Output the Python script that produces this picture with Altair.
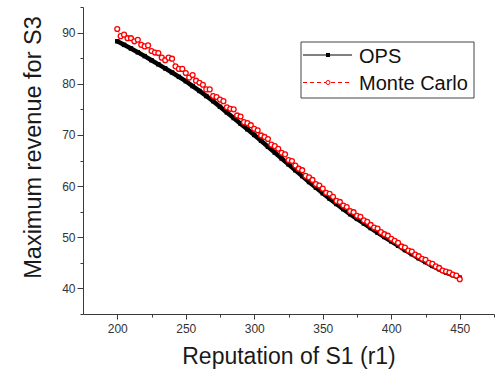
import altair as alt
import pandas as pd

# ---------------- data ----------------
ops_x = list(range(200, 451, 5))
ops_y = [88.3, 87.6, 86.9, 86.15, 85.4, 84.6, 83.8, 83.0, 82.2, 81.35,
         80.5, 79.55, 78.6, 77.6, 76.6, 75.5, 74.4, 73.3, 72.2, 71.1,
         70.0, 68.85, 67.7, 66.55, 65.4, 64.25, 63.1, 61.95, 60.8, 59.7,
         58.6, 57.55, 56.5, 55.5, 54.5, 53.6, 52.7, 51.8, 50.9, 50.05,
         49.2, 48.35, 47.5, 46.7, 45.9, 45.15, 44.4, 43.75, 43.1, 42.6,
         42.1]

mc_x = [200 + 2.5 * i for i in range(101)]
mc_y = [90.7, 89.3, 89.6, 88.9, 88.9, 88.3, 88.6, 87.6, 87.3, 87.5,
        86.4, 86.1, 86.0, 85.1, 84.6, 85.1, 84.9, 83.4, 82.9, 82.9,
        82.1, 81.2, 81.7, 80.6, 80.2, 79.8, 78.9, 78.9, 77.6, 77.4,
        76.9, 76.6, 75.4, 75.1, 75.0, 73.8, 73.6, 72.5, 72.3, 71.9,
        71.2, 70.9, 69.9, 69.6, 69.2, 68.1, 67.8, 67.3, 66.5, 66.2,
        65.1, 64.9, 64.0, 63.4, 63.1, 62.0, 61.7, 61.2, 60.4, 60.1,
        59.5, 58.7, 58.5, 57.9, 57.1, 56.9, 56.2, 55.9, 55.1, 54.9,
        54.2, 54.0, 53.3, 53.0, 52.4, 51.9, 51.7, 51.0, 50.6, 50.3,
        49.7, 49.3, 48.9, 48.2, 48.0, 47.4, 47.2, 46.6, 46.3, 45.8,
        45.6, 45.0, 44.8, 44.3, 44.0, 43.5, 43.3, 43.1, 42.7, 42.5,
        41.8]

x_major_ticks = [200, 250, 300, 350, 400, 450]
x_minor_ticks = [225, 275, 325, 375, 425, 475]
y_major_ticks = [40, 50, 60, 70, 80, 90]
y_minor_ticks = [35, 45, 55, 65, 75, 85, 95]
legend_labels = ["OPS", "Monte Carlo"]

FONT = "Liberation Sans"
AX = "#3a3a3a"

ops_df = pd.DataFrame({"r1": ops_x, "rev": ops_y})
mc_df = pd.DataFrame({"r1": mc_x, "rev": mc_y})
one = pd.DataFrame({"a": [0]})

xscale = alt.Scale(domain=[175, 475], nice=False, zero=False)
yscale = alt.Scale(domain=[35, 95], nice=False, zero=False)

x_major = alt.Axis(values=x_major_ticks, orient="bottom", grid=False, format="d",
                   domainColor=AX, domainWidth=1, tickColor=AX, tickSize=5, tickWidth=1,
                   labelFont=FONT, labelFontSize=12, labelColor="#333", labelPadding=4,
                   title="Reputation of S1 (r1)", titleFont=FONT, titleFontSize=23,
                   titleFontWeight="normal", titleColor="#1a1a1a",
                   titleBaseline="alphabetic", titleY=49)
y_major = alt.Axis(values=y_major_ticks, orient="left", grid=False, format="d",
                   domainColor=AX, domainWidth=1, tickColor=AX, tickSize=6, tickWidth=1,
                   labelFont=FONT, labelFontSize=12, labelColor="#333", labelPadding=2,
                   title="Maximum revenue for S3", titleFont=FONT, titleFontSize=23.5,
                   titleFontWeight="normal", titleColor="#1a1a1a",
                   titleBaseline="alphabetic", titleAlign="center", titleAngle=-90,
                   titleX=-43, titleY=140)
x_minor = alt.Axis(values=x_minor_ticks, orient="bottom", grid=False, labels=False,
                   domain=False, tickColor=AX, tickSize=3, tickWidth=1, title=None)
y_minor = alt.Axis(values=y_minor_ticks, orient="left", grid=False, labels=False,
                   domain=False, tickColor=AX, tickSize=3, tickWidth=1, title=None)

ops_line = alt.Chart(ops_df).mark_line(color="black", strokeWidth=4.5).encode(
    x=alt.X("r1:Q", scale=xscale, axis=x_major),
    y=alt.Y("rev:Q", scale=yscale, axis=y_major))
minor_layer = alt.Chart(ops_df).mark_point(opacity=0).encode(
    x=alt.X("r1:Q", scale=xscale, axis=x_minor),
    y=alt.Y("rev:Q", scale=yscale, axis=y_minor))
ops_pts = alt.Chart(ops_df).mark_point(shape="square", filled=True, color="black",
                                       size=20, opacity=1).encode(
    x=alt.X("r1:Q", scale=xscale, axis=None),
    y=alt.Y("rev:Q", scale=yscale, axis=None))
mc_line = alt.Chart(mc_df).mark_line(color="#ff0000", strokeWidth=1,
                                     strokeDash=[4, 3]).encode(
    x=alt.X("r1:Q", scale=xscale, axis=None),
    y=alt.Y("rev:Q", scale=yscale, axis=None))
mc_pts = alt.Chart(mc_df).mark_point(shape="circle", filled=False, fill="white",
                                     fillOpacity=1, stroke="#ff0000", strokeWidth=1.3,
                                     size=24, opacity=1).encode(
    x=alt.X("r1:Q", scale=xscale, axis=None),
    y=alt.Y("rev:Q", scale=yscale, axis=None))

# ---------------- legend ----------------
leg_box = alt.Chart(one).mark_rect(fill="white", stroke="#444", strokeWidth=1).encode(
    x=alt.value(218), x2=alt.value(391), y=alt.value(35), y2=alt.value(91))
leg_l1 = alt.Chart(one).mark_rule(color="black", strokeWidth=1).encode(
    x=alt.value(220), x2=alt.value(269), y=alt.value(48))
leg_p1 = alt.Chart(one).mark_point(shape="square", filled=True, color="black",
                                   size=16, opacity=1).encode(
    x=alt.value(245), y=alt.value(48))
leg_t1 = alt.Chart(one).mark_text(align="left", baseline="alphabetic", font=FONT,
                                  fontSize=20, color="#111").encode(
    x=alt.value(276), y=alt.value(55.5), text=alt.value(legend_labels[0]))
leg_l2 = alt.Chart(one).mark_rule(color="#ff0000", strokeWidth=1,
                                  strokeDash=[4, 3]).encode(
    x=alt.value(220), x2=alt.value(269), y=alt.value(75.5))
leg_p2 = alt.Chart(one).mark_point(shape="circle", filled=False, fill="white",
                                   fillOpacity=1, stroke="#ff0000", strokeWidth=1,
                                   size=16, opacity=1).encode(
    x=alt.value(245), y=alt.value(75.5))
leg_t2 = alt.Chart(one).mark_text(align="left", baseline="alphabetic", font=FONT,
                                  fontSize=20, color="#111").encode(
    x=alt.value(276), y=alt.value(83), text=alt.value(legend_labels[1]))

chart = alt.layer(
    ops_line, minor_layer, ops_pts, mc_line, mc_pts,
    leg_box, leg_l1, leg_p1, leg_t1, leg_l2, leg_p2, leg_t2
).resolve_axis(x="independent", y="independent").properties(
    width=411, height=307,
    autosize=alt.AutoSizeParams(type="none"),
    padding={"left": 83, "top": 7, "right": 1, "bottom": 59},
    background="white"
).configure_view(stroke=None)

chart.save("out.html", embed_options={"renderer": "svg", "actions": False})
